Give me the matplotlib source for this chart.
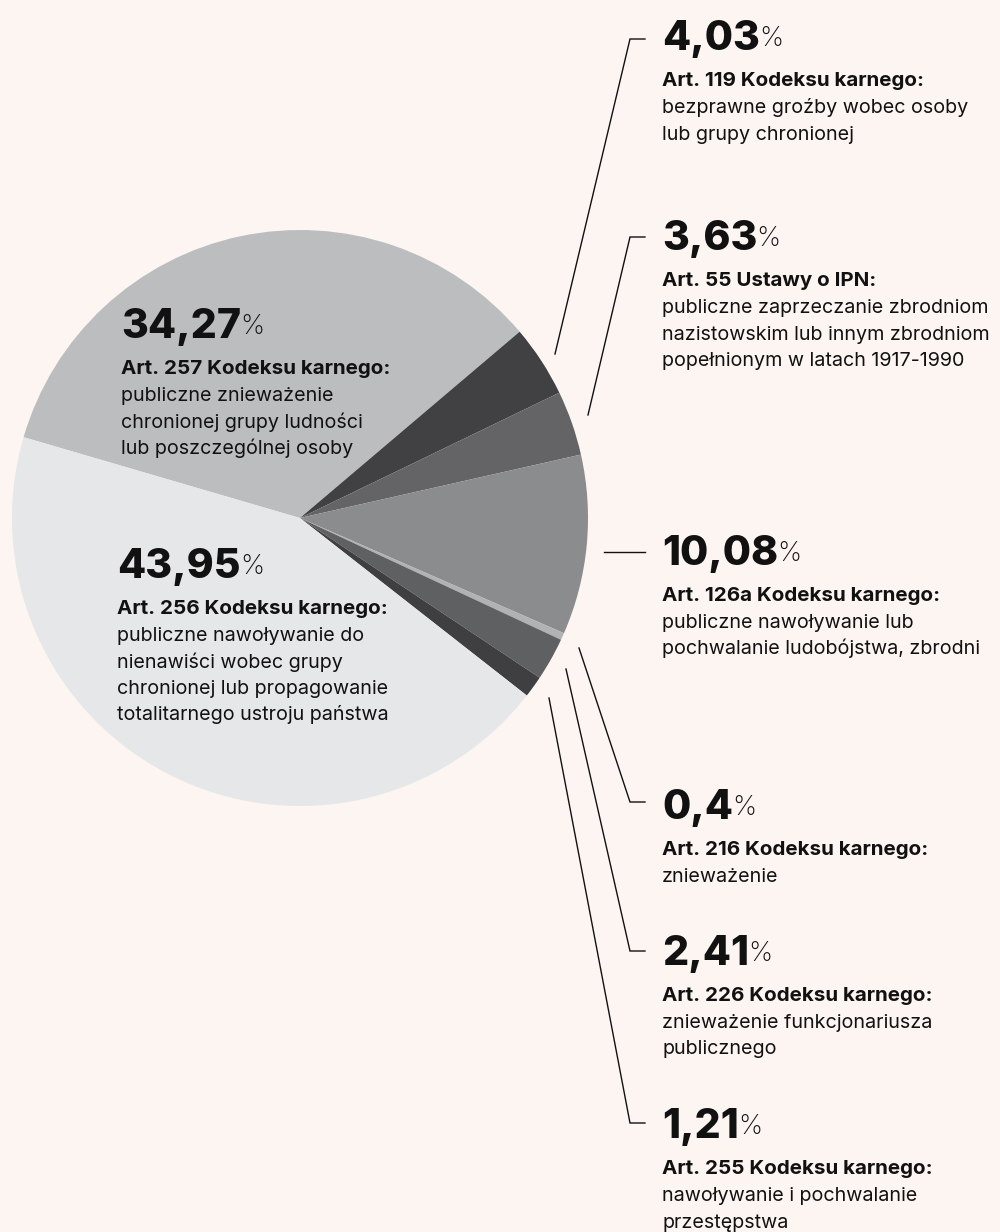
import matplotlib.pyplot as plt

plt.rcParams['font.family'] = ['Inter', 'DejaVu Sans']

W, H = 1000, 1232
BG = '#fdf5f2'

# dane: udzial procentowy (kolejnosc zgodnie z ruchem wskazowek zegara)
values = [34.27, 4.03, 3.63, 10.08, 0.4, 2.41, 1.21, 43.95]
value_labels = ['34,27', '4,03', '3,63', '10,08', '0,4', '2,41', '1,21', '43,95']
colors = ['#bcbdbf', '#414143', '#646466', '#8b8c8e', '#b1b2b4', '#5f6062', '#3f3f41', '#e6e7e8']
articles = ['Art. 257 Kodeksu karnego:', 'Art. 119 Kodeksu karnego:', 'Art. 55 Ustawy o IPN:',
            'Art. 126a Kodeksu karnego:', 'Art. 216 Kodeksu karnego:', 'Art. 226 Kodeksu karnego:',
            'Art. 255 Kodeksu karnego:', 'Art. 256 Kodeksu karnego:']
descriptions = [
    ['publiczne znieważenie', 'chronionej grupy ludności', 'lub poszczególnej osoby'],
    ['bezprawne groźby wobec osoby', 'lub grupy chronionej'],
    ['publiczne zaprzeczanie zbrodniom', 'nazistowskim lub innym zbrodniom', 'popełnionym w latach 1917-1990'],
    ['publiczne nawoływanie lub', 'pochwalanie ludobójstwa, zbrodni'],
    ['znieważenie'],
    ['znieważenie funkcjonariusza', 'publicznego'],
    ['nawoływanie i pochwalanie', 'przestępstwa'],
    ['publiczne nawoływanie do', 'nienawiści wobec grupy', 'chronionej lub propagowanie', 'totalitarnego ustroju państwa'],
]

# uklad (piksele od gory)
cx, cy, R = 300, 518, 288
# x tekstu, baseline liczby, linia odnosnika (punkty x,y) lub None
layout = [
    (121, 338, None),
    (662, 50, [(555, 354), (630, 39), (645, 39)]),
    (662, 250, [(588, 415), (630, 237), (645, 237)]),
    (662, 565, [(604, 552), (645, 552)]),
    (662, 819, [(579, 648), (630, 802), (645, 802)]),
    (662, 965, [(566, 669), (630, 951), (645, 951)]),
    (662, 1138, [(549, 698), (630, 1123), (645, 1123)]),
    (117, 578, None),
]


def Y(y):
    return H - y


fig = plt.figure(figsize=(W / 100, H / 100), dpi=100, facecolor=BG)
ax = fig.add_axes([0, 0, 1, 1])

ax.pie(values, colors=colors, startangle=163.7, counterclock=False,
       center=(cx, Y(cy)), radius=R, frame=True,
       wedgeprops=dict(linewidth=0))
ax.set_xlim(0, W)
ax.set_ylim(0, H)
ax.set_aspect('equal')
ax.axis('off')

for i in range(len(values)):
    x, base, line = layout[i]
    if line is not None:
        ax.plot([p[0] for p in line], [Y(p[1]) for p in line], color='#111111', lw=1.0,
                solid_joinstyle='miter')
    num = ax.text(x, Y(base), value_labels[i], fontsize=29.5, fontweight=800,
                  color='#111111', va='baseline', ha='left')
    ax.annotate('%', xy=(1, 1), xycoords=num, xytext=(-0.5, -4.5), textcoords='offset points',
                fontsize=19.5, fontweight='light', color='#111111', va='top', ha='left')
    ab = base + 36
    ax.text(x, Y(ab), articles[i], fontsize=14.8, fontweight='bold', color='#111111',
            va='baseline', ha='left')
    for j, line_txt in enumerate(descriptions[i]):
        ax.text(x, Y(ab + 27 + 26.5 * j), line_txt, fontsize=14.2, color='#111111',
                va='baseline', ha='left')

fig.savefig('out.png', dpi=100, facecolor=BG)
